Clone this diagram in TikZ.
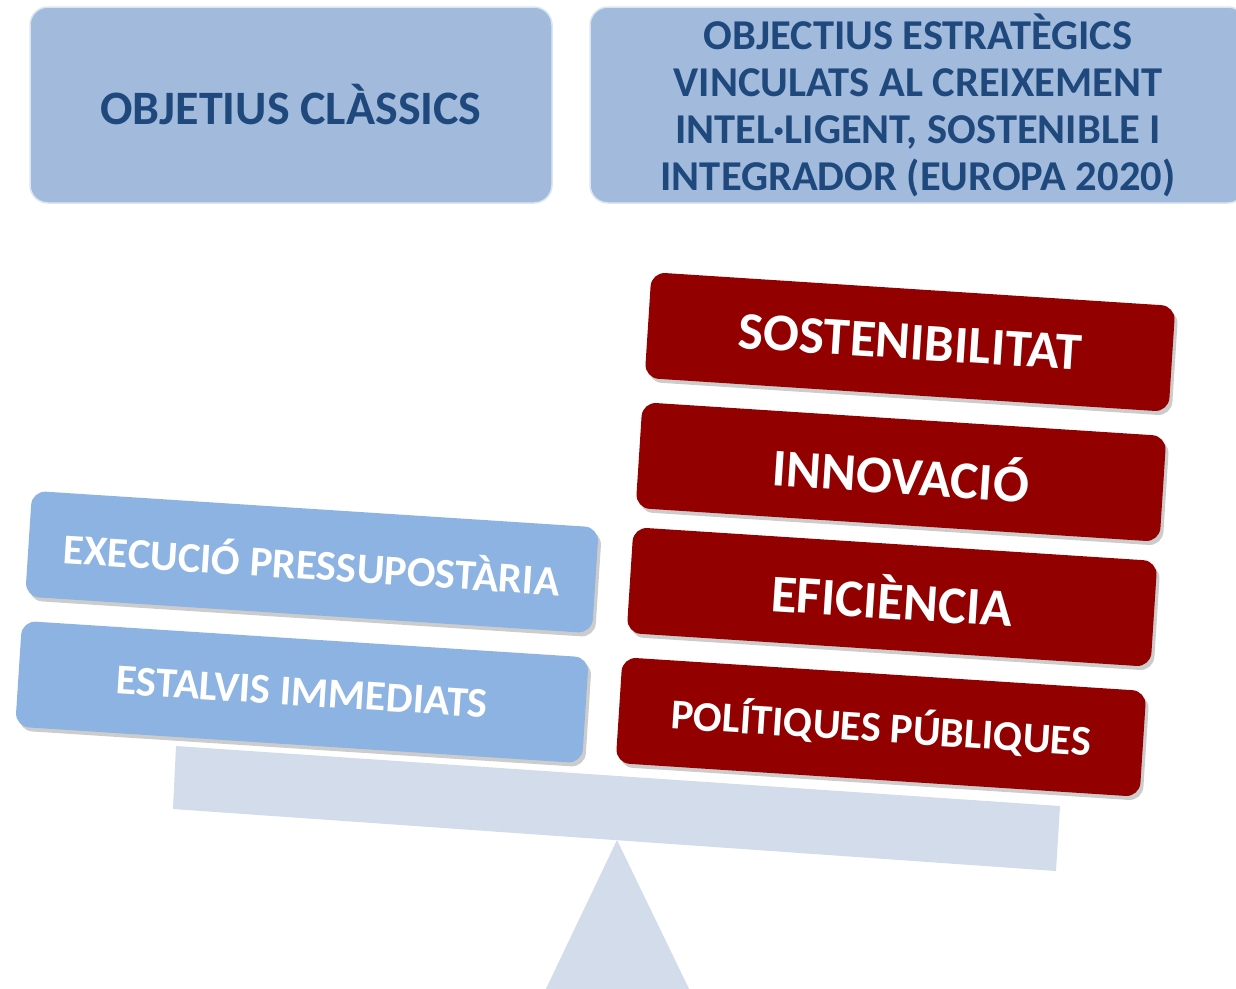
\documentclass[tikz,border=0pt]{standalone}
\usepackage{fontspec}
\setmainfont{Carlito}
\usepackage{tikz}
\usetikzlibrary{shadows}
\definecolor{topfill}{HTML}{A2BBDC}
\definecolor{topedge}{HTML}{DCE5F2}
\definecolor{darkblue}{HTML}{1F497D}
\definecolor{lightblue}{HTML}{8DB3E2}
\definecolor{darkred}{HTML}{920000}
\definecolor{beamgray}{HTML}{D3DCEA}

\begin{document}
\begin{tikzpicture}[x=1pt,y=-1pt,
        header/.style={draw=topedge, line width=1.5pt, fill=topfill, rounded corners=18pt,
            text=darkblue, align=center, inner sep=0pt, minimum height=196pt,
            font=\fontsize{42.5}{47}\selectfont\bfseries},
        weight/.style={fill=#1, rounded corners=14pt, rotate=-3.7, text=white,
            minimum height=106pt,
            drop shadow={shadow xshift=3pt, shadow yshift=-4pt, opacity=0.4}},
        bigtext/.style={font=\fontsize{53}{58}\selectfont\bfseries},
        smalltext/.style={font=\fontsize{42.5}{47}\selectfont\bfseries}]
    \useasboundingbox (0,0) rectangle (1236,988);
    \clip (0,0) rectangle (1236,988);

    \fill[beamgray] (617,840) -- (692,995) -- (543,995) -- cycle;
    \fill[beamgray] (176,746) -- (1060,806) -- (1056,871) -- (173,809) -- cycle;

    \node[header, minimum width=522pt, font=\fontsize{48}{52}\selectfont\bfseries]
        (classics) at (291,105) {OBJETIUS CLÀSSICS};
    \node[header, minimum width=656pt] (europa) at (918,105)
        {OBJECTIUS ESTRATÈGICS\\VINCULATS AL CREIXEMENT\\INTEL·LIGENT, SOSTENIBLE I\\INTEGRADOR (EUROPA 2020)};

    \node[weight=darkred, minimum width=525pt, bigtext] (sost) at (910,342) {SOSTENIBILITAT};
    \node[weight=darkred, minimum width=525pt, bigtext] (innov) at (901,472) {INNOVACIÓ};
    \node[weight=darkred, minimum width=525pt, bigtext] (efic) at (892,597) {EFICIÈNCIA};
    \node[weight=darkred, minimum width=525pt, smalltext] (polit) at (881,727) {POLÍTIQUES PÚBLIQUES};

    \node[weight=lightblue, minimum width=568pt, smalltext] (exec) at (312,562) {EXECUCIÓ PRESSUPOSTÀRIA};
    \node[weight=lightblue, minimum width=568pt, smalltext] (estalvis) at (302,692) {ESTALVIS IMMEDIATS};
\end{tikzpicture}
\end{document}
